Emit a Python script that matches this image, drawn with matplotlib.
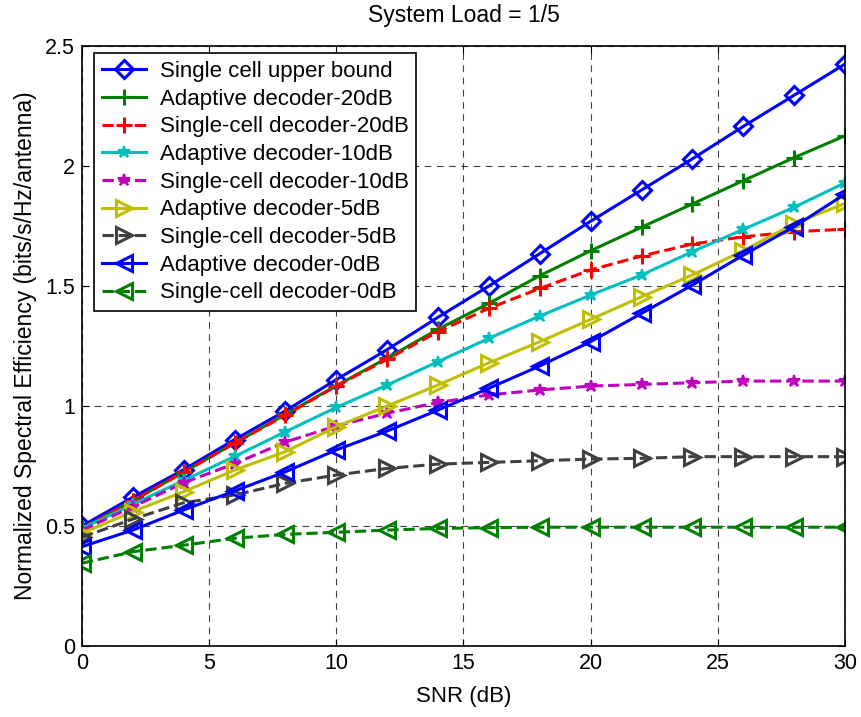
import numpy as np
import matplotlib
matplotlib.use('Agg')
import matplotlib.pyplot as plt

plt.rcParams['font.family'] = ['Liberation Sans', 'DejaVu Sans']

snr = [0, 2, 4, 6, 8, 10, 12, 14, 16, 18, 20, 22, 24, 26, 28, 30]

upper_bound = [0.50, 0.62, 0.735, 0.86, 0.98, 1.11, 1.235, 1.37, 1.50, 1.635, 1.77, 1.90, 2.03, 2.165, 2.295, 2.425]
adaptive_20 = [0.49, 0.605, 0.725, 0.845, 0.965, 1.085, 1.20, 1.32, 1.428, 1.543, 1.647, 1.745, 1.842, 1.939, 2.035, 2.126]
single_20 = [0.49, 0.605, 0.725, 0.845, 0.962, 1.083, 1.195, 1.31, 1.407, 1.49, 1.567, 1.625, 1.675, 1.705, 1.726, 1.737]
adaptive_10 = [0.49, 0.59, 0.69, 0.79, 0.893, 0.994, 1.0875, 1.185, 1.282, 1.375, 1.4625, 1.546, 1.643, 1.736, 1.828, 1.93]
single_10 = [0.483, 0.58, 0.68, 0.76, 0.85, 0.917, 0.97, 1.015, 1.046, 1.067, 1.083, 1.09, 1.097, 1.104, 1.104, 1.104]
adaptive_5 = [0.47, 0.56, 0.643, 0.733, 0.81, 0.914, 1.0, 1.0875, 1.18, 1.268, 1.361, 1.455, 1.546, 1.647, 1.76, 1.844]
single_5 = [0.453, 0.529, 0.597, 0.629, 0.678, 0.7125, 0.74, 0.758, 0.765, 0.772, 0.779, 0.782, 0.789, 0.789, 0.789, 0.789]
adaptive_0 = [0.414, 0.483, 0.567, 0.646, 0.726, 0.817, 0.896, 0.983, 1.074, 1.167, 1.268, 1.386, 1.504, 1.629, 1.747, 1.883]
single_0 = [0.345, 0.393, 0.42, 0.449, 0.465, 0.474, 0.483, 0.49, 0.493, 0.495, 0.495, 0.495, 0.495, 0.495, 0.495, 0.495]

fig = plt.figure(figsize=(8.61, 7.17), dpi=100)
ax = fig.add_axes([0.0952, 0.099, 0.8862, 0.8368])

blue = (0, 0, 1)
green = (0, 0.5, 0)
red = (1, 0, 0)
cyan = (0, 0.75, 0.75)
magenta = (0.75, 0, 0.75)
yellow = (0.75, 0.75, 0)
gray = (0.25, 0.25, 0.25)

lw = 2.2
ms = 11
mew = 2.2

ax.plot(snr, upper_bound, '-', color=blue, lw=lw, marker='D', ms=9.5, mew=mew,
        fillstyle='none', label='Single cell upper bound')
ax.plot(snr, adaptive_20, '-', color=green, lw=lw, marker='+', ms=ms, mew=mew,
        label='Adaptive decoder-20dB')
ax.plot(snr, single_20, '--', color=red, lw=lw, marker='+', ms=ms, mew=mew,
        label='Single-cell decoder-20dB')
ax.plot(snr, adaptive_10, '-', color=cyan, lw=lw, marker='*', ms=9, mew=1.5,
        label='Adaptive decoder-10dB')
ax.plot(snr, single_10, '--', color=magenta, lw=lw, marker='*', ms=9, mew=1.5,
        label='Single-cell decoder-10dB')
ax.plot(snr, adaptive_5, '-', color=yellow, lw=lw, marker='>', ms=ms, mew=mew,
        fillstyle='none', label='Adaptive decoder-5dB')
ax.plot(snr, single_5, '--', color=gray, lw=lw, marker='>', ms=ms, mew=mew,
        fillstyle='none', label='Single-cell decoder-5dB')
ax.plot(snr, adaptive_0, '-', color=blue, lw=lw, marker='<', ms=ms, mew=mew,
        fillstyle='none', label='Adaptive decoder-0dB')
ax.plot(snr, single_0, '--', color=green, lw=lw, marker='<', ms=ms, mew=mew,
        fillstyle='none', label='Single-cell decoder-0dB')

ax.set_xlim(0, 30)
ax.set_ylim(0, 2.5)
ax.set_xticks([0, 5, 10, 15, 20, 25, 30])
ax.set_yticks([0, 0.5, 1, 1.5, 2, 2.5])
ax.set_yticklabels(['0', '0.5', '1', '1.5', '2', '2.5'])
ax.grid(True, color='black', linestyle=(0, (6, 5)), linewidth=0.8, alpha=0.75)
ax.tick_params(direction='in', top=True, right=True, labelsize=15.5, length=5, pad=5)
for s in ax.spines.values():
    s.set_linewidth(1.2)

ax.set_xlabel('SNR (dB)', fontsize=16, labelpad=9)
ax.set_ylabel('Normalized Spectral Efficiency (bits/s/Hz/antenna)', fontsize=16.5, labelpad=6)
ax.set_title('System Load = 1/5', fontsize=16.5, pad=17)

leg = ax.legend(loc='upper left', fontsize=16, fancybox=False, framealpha=1,
                edgecolor='black', handlelength=2.0, handletextpad=0.6,
                borderpad=0.35, labelspacing=0.3, borderaxespad=0,
                bbox_to_anchor=(0.0157, 0.988))
leg.get_frame().set_linewidth(1.2)

fig.savefig('out.png', dpi=100)
